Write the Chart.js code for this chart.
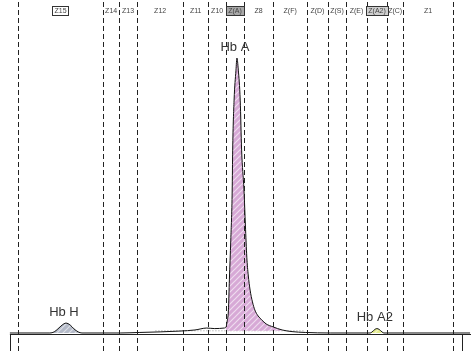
<!DOCTYPE html>
<html>
<head>
<meta charset="utf-8">
<script src="https://cdn.jsdelivr.net/npm/chart.js@4"></script>
<style>
  body { margin: 0; background: #fff; }
  canvas { display: block; }
</style>
</head>
<body>
<canvas id="grafico" width="471" height="351"></canvas>
<script>
// electroforegrama: tiempo de migracion (0-100) vs absorbancia (% del pico mayor)
const tiempo = [2.1, 10.6, 11.5, 12.3, 13.2, 14.0, 14.9, 15.7, 16.6, 17.4, 25.5, 29.7, 34.0, 38.2, 41.4, 43.9, 45.6, 47.6,
  48.0, 48.2, 48.5, 48.7, 49.0, 49.3, 49.4, 49.7, 50.1, 50.3, 50.6, 51.0, 51.3, 51.8, 52.1, 52.4, 52.7, 53.1, 53.6,
  54.1, 54.8, 55.6, 56.5, 58.0, 59.9, 62.0, 64.8, 70.1, 78.6, 79.0, 79.6, 80.0, 80.5, 81.1, 81.5, 99.8];
const absorbancia = [0, 0, 0.4, 1.5, 2.9, 3.6, 2.9, 1.5, 0.4, 0, 0, 0.2, 0.4, 0.7, 1.1, 1.8, 1.6, 1.8,
  2.2, 4.0, 8.4, 19.3, 33.8, 52.0, 66.5, 84.7, 95.6, 100, 95.6, 84.7, 66.5, 52.0, 39.3, 27.6, 21.1, 15.6, 11.3,
  8.4, 6.2, 4.7, 3.3, 2.2, 1.1, 0.5, 0.2, 0, 0, 0.4, 1.3, 1.6, 1.3, 0.4, 0, 0];

// zonas
const zonas = ['Z15', 'Z14', 'Z13', 'Z12', 'Z11', 'Z10', 'Z(A)', 'Z8', 'Z(F)', 'Z(D)', 'Z(S)', 'Z(E)', 'Z(A2)', 'Z(C)', 'Z1'];
const limitesZonas = [3.8, 21.9, 25.3, 29.1, 38.9, 44.2, 48.0, 51.8, 58.0, 65.2, 69.6, 73.5, 77.9, 82.2, 85.6, 96.2];
const zonasMarcadas = ['Z15', 'Z(A)', 'Z(A2)'];

// picos identificados
const picos = ['Hb H', 'Hb A', 'Hb A2'];
const picoInicio = [10.6, 48.0, 78.6];
const picoFin = [17.4, 59.9, 81.5];
const picoBase = [0, 0.8, 0];

// linea base de integracion y marcas del eje
const baseInicio = 33, baseFin = 64.8, baseValor = 0.8;
const marcasEje = [2.1, 98.1];

function rayado(base, raya) {
  const c = document.createElement('canvas');
  c.width = 6; c.height = 6;
  const g = c.getContext('2d');
  g.fillStyle = base;
  g.fillRect(0, 0, 6, 6);
  g.strokeStyle = raya;
  g.lineWidth = 1.2;
  g.beginPath();
  g.moveTo(0, 6); g.lineTo(6, 0);
  g.moveTo(-3, 3); g.lineTo(3, -3);
  g.moveTo(3, 9); g.lineTo(9, 3);
  g.stroke();
  return g.createPattern(c, 'repeat');
}

const coloresPico = [
  rayado('#b4bac8', 'rgba(255,255,255,0.55)'),
  rayado('#d7a9d6', 'rgba(255,255,255,0.6)'),
  rayado('#e4ec8c', 'rgba(255,255,255,0.5)')
];

const curva = tiempo.map((t, i) => ({ x: t, y: absorbancia[i] }));

const datasets = [{
  label: 'curva',
  data: curva,
  borderColor: '#111',
  borderWidth: 1,
  pointRadius: 0,
  cubicInterpolationMode: 'monotone',
  fill: false
}];

picos.forEach((p, k) => {
  datasets.push({
    label: p,
    data: curva.filter(d => d.x >= picoInicio[k] && d.x <= picoFin[k]),
    borderWidth: 0,
    borderColor: 'rgba(0,0,0,0)',
    backgroundColor: coloresPico[k],
    pointRadius: 0,
    cubicInterpolationMode: 'monotone',
    fill: { value: picoBase[k] }
  });
});

datasets.push({
  label: 'base',
  data: [{ x: baseInicio, y: baseValor }, { x: baseFin, y: baseValor }],
  borderColor: '#999',
  borderWidth: 1,
  borderDash: [1, 2],
  pointRadius: 0,
  fill: false
});

const decorado = {
  id: 'decorado',
  afterDatasetsDraw(chart) {
    const ctx = chart.ctx;
    const x = chart.scales.x, y = chart.scales.y;
    const alto = chart.height;
    ctx.save();

    // lineas de zonas
    ctx.strokeStyle = '#222';
    ctx.lineWidth = 1;
    ctx.setLineDash([5, 3]);
    limitesZonas.forEach(v => {
      const px = Math.round(x.getPixelForValue(v)) + 0.5;
      ctx.beginPath();
      ctx.moveTo(px, 2);
      ctx.lineTo(px, alto);
      ctx.stroke();
    });
    ctx.setLineDash([]);

    // eje
    const y0 = Math.round(y.getPixelForValue(0)) + 1.5;
    ctx.beginPath();
    ctx.moveTo(x.getPixelForValue(marcasEje[0]), y0);
    ctx.lineTo(x.getPixelForValue(100), y0);
    ctx.stroke();
    marcasEje.forEach(v => {
      const px = Math.round(x.getPixelForValue(v)) + 0.5;
      ctx.beginPath();
      ctx.moveTo(px, y0);
      ctx.lineTo(px, alto);
      ctx.stroke();
    });

    // etiquetas de zonas
    ctx.font = '7px "Liberation Sans", Arial, sans-serif';
    ctx.textAlign = 'center';
    ctx.textBaseline = 'middle';
    zonas.forEach((z, i) => {
      const cx = (x.getPixelForValue(limitesZonas[i]) + x.getPixelForValue(limitesZonas[i + 1])) / 2;
      const w = ctx.measureText(z).width + 4;
      if (zonasMarcadas.includes(z)) {
        ctx.fillStyle = z === 'Z(A)' ? '#a8a8a8' : (z === 'Z(A2)' ? '#d0d0d0' : '#fff');
        ctx.fillRect(Math.round(cx - w / 2) + 0.5, 6.5, Math.round(w), 9);
        ctx.strokeStyle = '#333';
        ctx.strokeRect(Math.round(cx - w / 2) + 0.5, 6.5, Math.round(w), 9);
      }
      ctx.fillStyle = '#444';
      ctx.fillText(z, cx, 11.5);
    });

    // etiquetas de picos
    ctx.font = '13px "Liberation Sans", Arial, sans-serif';
    ctx.fillStyle = '#333';
    picos.forEach((p, k) => {
      let mejor = null;
      curva.forEach(d => {
        if (d.x >= picoInicio[k] && d.x <= picoFin[k] && (!mejor || d.y > mejor.y)) mejor = d;
      });
      ctx.fillText(p, x.getPixelForValue(mejor.x) - 2, y.getPixelForValue(mejor.y) - 11);
    });
    ctx.restore();
  }
};

new Chart(document.getElementById('grafico'), {
  type: 'line',
  data: { datasets: datasets },
  options: {
    responsive: false,
    animation: false,
    layout: { padding: 0 },
    plugins: {
      legend: { display: false },
      tooltip: { enabled: false }
    },
    scales: {
      x: { type: 'linear', min: 0, max: 100, display: false },
      y: { min: -6.55, max: 121.1, display: false }
    }
  },
  plugins: [decorado]
});
</script>
</body>
</html>
